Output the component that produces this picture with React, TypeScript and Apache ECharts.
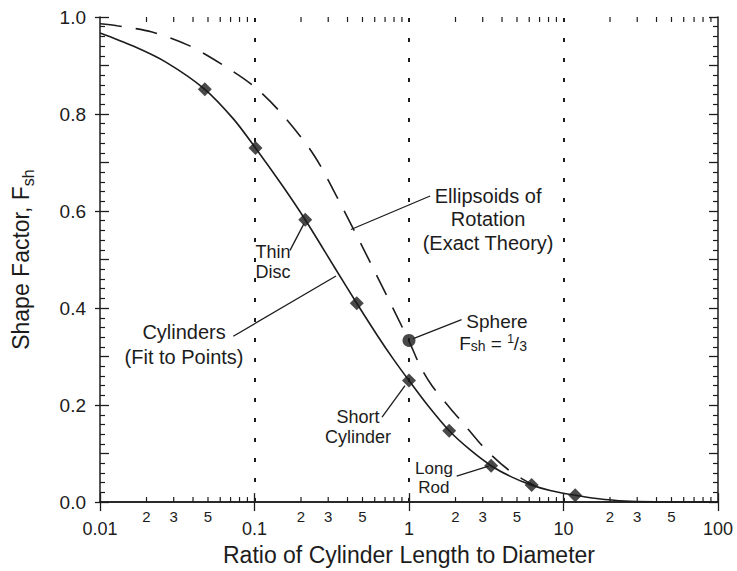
import React, { useEffect, useRef } from "react";
import * as echarts from "echarts";

// ---- data ----
const cylinderX = [0.01, 0.0164, 0.027, 0.0477, 0.073, 0.1015, 0.153, 0.213, 0.33, 0.459, 0.63, 0.79, 1.0, 1.31, 1.82, 2.48, 3.4, 4.6, 6.22, 8.2, 11.9, 16.4, 25, 40, 100];
const cylinderY = [0.967, 0.94, 0.906, 0.851, 0.79, 0.73, 0.6505, 0.582, 0.4837, 0.41, 0.3415, 0.2953, 0.2505, 0.201, 0.147, 0.108, 0.075, 0.052, 0.035, 0.024, 0.014, 0.0073, 0.002, 0.0005, 0];

const ellipsoidX = [0.01, 0.01288, 0.02171, 0.03712, 0.0625, 0.0993, 0.1507, 0.2427, 0.3576, 0.5593, 1.0, 1.178, 1.409, 1.898, 2.236, 2.796, 3.498, 4.374, 5.469, 6.445];
const ellipsoidY = [0.986, 0.982, 0.969, 0.942, 0.901, 0.857, 0.8, 0.715, 0.617, 0.495, 0.332, 0.281, 0.24, 0.189, 0.163, 0.126, 0.0937, 0.0672, 0.0468, 0.0346];

const pointX = [0.0477, 0.1015, 0.213, 0.459, 1.0, 1.82, 3.4, 6.22, 11.9];
const pointY = [0.851, 0.73, 0.582, 0.41, 0.2505, 0.147, 0.075, 0.035, 0.014];

const sphereX = [1];
const sphereY = [1 / 3];

const decadeLines = [0.1, 1, 10];
const majorTickValues = [0.01, 0.1, 1, 10, 100];
const majorTickLabels = ["0.01", "0.1", "1", "10", "100"];
const decades = [0.01, 0.1, 1, 10];
const minorMultipliers = [2, 3, 4, 5, 6, 7, 8, 9];
const minorLabelMultipliers = [2, 3, 5];
const yTickLabels = ["0.0", "0.2", "0.4", "0.6", "0.8", "1.0"];

type Ann = {
  text: string;
  at: [number, number];
  size: number;
  lh: number;
  from?: [number, number];
  to?: [number, number];
};
const annotations: Ann[] = [
  { text: "Ellipsoids of\nRotation\n(Exact Theory)", at: [3.25, 0.583], size: 20, lh: 23.5, from: [1.37, 0.631], to: [0.421, 0.562] },
  { text: "Thin\nDisc", at: [0.1317, 0.495], size: 18, lh: 20, from: [0.1698, 0.519], to: [0.209, 0.574] },
  { text: "Cylinders\n(Fit to Points)", at: [0.035, 0.324], size: 20, lh: 25, from: [0.0729, 0.342], to: [0.337, 0.466] },
  { text: "Sphere", at: [3.71, 0.372], size: 19, lh: 20, from: [2.19, 0.376], to: [1.066, 0.337] },
  { text: "Short\nCylinder", at: [0.468, 0.155], size: 18, lh: 20, from: [0.669, 0.175], to: [0.942, 0.24] },
  { text: "Long\nRod", at: [1.45, 0.049], size: 17, lh: 19, from: [2.035, 0.0536], to: [3.28, 0.074] },
];
const sphereFormulaAt: [number, number] = [3.5, 0.327];

const FONT = '"Liberation Sans", Arial, Helvetica, sans-serif';
const INK = "#1c1c1c";

const minorTickValues = decades.flatMap((d) => minorMultipliers.map((m) => Number((d * m).toPrecision(3))));
const minorTickLabels = decades.flatMap((d) =>
  minorMultipliers.map((m) => (minorLabelMultipliers.includes(m) ? String(m) : ""))
);

export default function App() {
  const ref = useRef<HTMLDivElement>(null);

  useEffect(() => {
    if (!ref.current) return;
    const chart = echarts.init(ref.current, null, { renderer: "svg" });

    const zip = (xs: number[], ys: number[]) => xs.map((x, i) => [x, ys[i]]);

    const option: any = {
      animation: false,
      backgroundColor: "#ffffff",
      grid: { left: 100, right: 19, top: 17, bottom: 63, containLabel: false },
      xAxis: [
        {
          type: "log",
          logBase: 10,
          min: 0.01,
          max: 100,
          position: "bottom",
          axisLine: { show: true, lineStyle: { color: INK, width: 1.5 } },
          axisTick: { show: true, inside: true, length: 9, lineStyle: { color: INK, width: 1.3 } },
          axisLabel: {
            margin: 18,
            fontSize: 18,
            fontFamily: FONT,
            color: INK,
            formatter: (v: number) => {
              const i = majorTickValues.findIndex((t) => Math.abs(Math.log10(t) - Math.log10(v)) < 1e-6);
              return i >= 0 ? majorTickLabels[i] : "";
            },
          },
          splitLine: { show: false },
          name: "Ratio of Cylinder Length to Diameter",
          nameLocation: "middle",
          nameGap: 36,
          nameTextStyle: { fontSize: 23, fontFamily: FONT, color: INK },
        },
        {
          type: "log",
          logBase: 10,
          min: 0.01,
          max: 100,
          position: "top",
          axisLine: { show: true, lineStyle: { color: INK, width: 1.5 } },
          axisTick: { show: true, inside: true, length: 9, lineStyle: { color: INK, width: 1.3 } },
          axisLabel: { show: false },
          splitLine: { show: false },
        },
      ],
      yAxis: [
        {
          type: "value",
          min: 0,
          max: 1,
          interval: 0.2,
          position: "left",
          axisLine: { show: true, lineStyle: { color: INK, width: 1.5 } },
          axisTick: { show: true, inside: false, length: 5, lineStyle: { color: INK, width: 1.3 } },
          axisLabel: {
            margin: 14,
            fontSize: 19,
            fontFamily: FONT,
            color: INK,
            formatter: (v: number) => yTickLabels[Math.round(v / 0.2)] ?? "",
          },
          splitLine: { show: false },
          name: "{a|Shape Factor, F}{b|sh}",
          nameLocation: "middle",
          nameGap: 64,
          nameTextStyle: {
            rich: {
              a: { fontSize: 23, fontFamily: FONT, color: INK, lineHeight: 30 },
              b: { fontSize: 16, fontFamily: FONT, color: INK, lineHeight: 16, verticalAlign: "bottom" },
            },
          },
        },
        {
          type: "value",
          min: 0,
          max: 1,
          interval: 0.1,
          position: "left",
          axisLine: { show: false },
          axisTick: { show: true, inside: true, length: 9, lineStyle: { color: INK, width: 1.3 } },
          minorTick: { show: true, splitNumber: 5, length: 5, lineStyle: { color: INK, width: 1.2 } },
          axisLabel: { show: false },
          splitLine: { show: false },
        },
        {
          type: "value",
          min: 0,
          max: 1,
          interval: 0.1,
          position: "right",
          axisLine: { show: true, lineStyle: { color: INK, width: 1.5 } },
          axisTick: { show: true, inside: true, length: 9, lineStyle: { color: INK, width: 1.3 } },
          minorTick: { show: true, splitNumber: 5, length: 5, lineStyle: { color: INK, width: 1.2 } },
          axisLabel: { show: false },
          splitLine: { show: false },
        },
      ],
      series: [
        {
          name: "Cylinders (Fit to Points)",
          type: "line",
          xAxisIndex: 0,
          yAxisIndex: 0,
          data: zip(cylinderX, cylinderY),
          symbol: "none",
          smooth: 0.3,
          lineStyle: { color: INK, width: 1.6 },
          markLine: {
            silent: true,
            symbol: ["none", "none"],
            label: { show: false },
            lineStyle: { color: INK, type: [4, 16], width: 2 },
            data: decadeLines.map((v) => ({ xAxis: v })),
          },
          z: 3,
        },
        {
          name: "Ellipsoids of Rotation (Exact Theory)",
          type: "line",
          xAxisIndex: 0,
          yAxisIndex: 0,
          data: zip(ellipsoidX, ellipsoidY),
          symbol: "none",
          smooth: 0.3,
          lineStyle: { color: INK, width: 1.6, type: [22, 14] },
          z: 3,
        },
        {
          name: "Points",
          type: "scatter",
          xAxisIndex: 0,
          yAxisIndex: 0,
          data: zip(pointX, pointY),
          symbol: "diamond",
          symbolSize: [14, 14],
          itemStyle: { color: INK },
          z: 5,
        },
        {
          name: "Sphere",
          type: "scatter",
          xAxisIndex: 0,
          yAxisIndex: 0,
          data: zip(sphereX, sphereY),
          symbol: "circle",
          symbolSize: 13,
          itemStyle: { color: INK },
          z: 5,
        },
        {
          name: "minor ticks",
          type: "custom",
          xAxisIndex: 0,
          yAxisIndex: 0,
          silent: true,
          data: minorTickValues.map((v) => [v, 0]),
          renderItem: (params: any, api: any) => {
            const x = api.value(0);
            const b = api.coord([x, 0]);
            const t = api.coord([x, 1]);
            const label = minorTickLabels[params.dataIndex];
            const children: any[] = [
              { type: "line", shape: { x1: b[0], y1: b[1], x2: b[0], y2: b[1] - 5 }, style: { stroke: INK, lineWidth: 1.2 } },
              { type: "line", shape: { x1: t[0], y1: t[1], x2: t[0], y2: t[1] + 5 }, style: { stroke: INK, lineWidth: 1.2 } },
            ];
            if (label) {
              children.push({
                type: "text",
                x: b[0],
                y: b[1] + 14,
                style: { text: label, fontSize: 15, fontFamily: FONT, fill: INK, align: "center", verticalAlign: "middle" },
              });
            }
            return { type: "group", children };
          },
          z: 4,
        },
      ],
    };

    chart.setOption(option);

    const px = (p: [number, number]) => chart.convertToPixel({ gridIndex: 0 } as any, p) as number[];
    const graphic: any[] = [];
    annotations.forEach((a) => {
      const c = px(a.at);
      graphic.push({
        type: "text",
        x: c[0],
        y: c[1],
        silent: true,
        style: {
          text: a.text,
          fontSize: a.size,
          lineHeight: a.lh,
          fontFamily: FONT,
          fill: INK,
          align: "center",
          verticalAlign: "middle",
        },
      });
      if (a.from && a.to) {
        const f = px(a.from);
        const t = px(a.to);
        graphic.push({
          type: "line",
          silent: true,
          shape: { x1: f[0], y1: f[1], x2: t[0], y2: t[1] },
          style: { stroke: INK, lineWidth: 1.3 },
        });
      }
    });
    const fc = px(sphereFormulaAt);
    graphic.push({
      type: "text",
      x: fc[0],
      y: fc[1],
      silent: true,
      style: {
        text: "{n|F}{s|sh}{n| = }{p|1}{n|/}{s|3}",
        align: "center",
        verticalAlign: "middle",
        rich: {
          n: { fontSize: 19, fontFamily: FONT, fill: INK, lineHeight: 20 },
          s: { fontSize: 14, fontFamily: FONT, fill: INK, lineHeight: 10, verticalAlign: "bottom" },
          p: { fontSize: 12, fontFamily: FONT, fill: INK, lineHeight: 10, verticalAlign: "top" },
        },
      },
    });
    chart.setOption({ graphic });

    return () => chart.dispose();
  }, []);

  return (
    <div
      ref={ref}
      style={{ position: "absolute", left: 0, top: 0, width: 737, height: 571, background: "#fff" }}
    />
  );
}
